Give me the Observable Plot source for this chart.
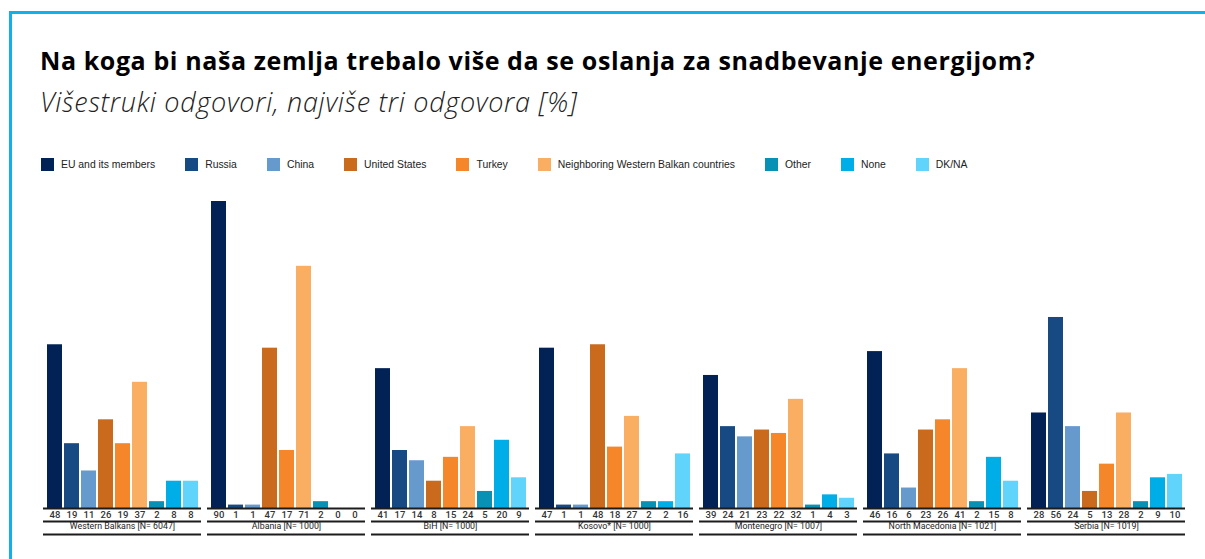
<!DOCTYPE html>
<html>
<head>
<meta charset="utf-8">
<script src="https://cdn.jsdelivr.net/npm/d3@7"></script>
<script src="https://cdn.jsdelivr.net/npm/@observablehq/plot@0.6"></script>
<style>
  html, body { margin: 0; padding: 0; background: #fff; width: 1205px; height: 559px; overflow: hidden; position: relative; }
  .frame { position: absolute; left: 9px; top: 11px; width: 1400px; height: 800px; border-top: 3px solid #0fb1e8; border-left: 3px solid #0fb1e8; }
  .title { position: absolute; left: 40px; top: 48px; font-family: "Open Sans", sans-serif; font-weight: 700; font-size: 25px; line-height: 25px; letter-spacing: 0.6px; color: #000; white-space: nowrap; }
  .subtitle { position: absolute; left: 40px; top: 88px; font-family: "Open Sans", sans-serif; font-weight: 300; font-style: italic; font-size: 27px; line-height: 27px; letter-spacing: 0.7px; color: #222; white-space: nowrap; }
  .legend { position: absolute; left: 41px; top: 158px; display: flex; align-items: center; font-family: "Liberation Sans", Arial, sans-serif; font-size: 10.4px; color: #222; white-space: nowrap; }
  .legend .item { display: flex; align-items: center; margin-right: 30px; }
  .legend .sw { width: 13px; height: 13px; margin-right: 7px; }
  #chart { position: absolute; left: 0; top: 185px; }
</style>
</head>
<body>
<div class="frame"></div>
<div class="title" id="title"></div>
<div class="subtitle" id="subtitle"></div>
<div class="legend" id="legend"></div>
<div id="chart"></div>
<script>
const titleText = "Na koga bi naša zemlja trebalo više da se oslanja za snadbevanje energijom?";
const subtitleText = "Višestruki odgovori, najviše tri odgovora [%]";

const categories = ["EU and its members", "Russia", "China", "United States", "Turkey", "Neighboring Western Balkan countries", "Other", "None", "DK/NA"];
const colors = ["#022256", "#174a82", "#6699cc", "#c96a1d", "#f5862a", "#f9ae62", "#0990b5", "#00aee7", "#60d4fa"];

const groups = ["Western Balkans [N= 6047]", "Albania [N= 1000]", "BiH [N= 1000]", "Kosovo* [N= 1000]", "Montenegro [N= 1007]", "North Macedonia [N= 1021]", "Serbia [N= 1019]"];

const westernBalkans = [48, 19, 11, 26, 19, 37, 2, 8, 8];
const albania        = [90, 1, 1, 47, 17, 71, 2, 0, 0];
const bih            = [41, 17, 14, 8, 15, 24, 5, 20, 9];
const kosovo         = [47, 1, 1, 48, 18, 27, 2, 2, 16];
const montenegro     = [39, 24, 21, 23, 22, 32, 1, 4, 3];
const northMacedonia = [46, 16, 6, 23, 26, 41, 2, 15, 8];
const serbia         = [28, 56, 24, 5, 13, 28, 2, 9, 10];
const groupValues = [westernBalkans, albania, bih, kosovo, montenegro, northMacedonia, serbia];

document.getElementById("title").textContent = titleText;
document.getElementById("subtitle").textContent = subtitleText;

const legend = document.getElementById("legend");
categories.forEach((c, i) => {
  const item = document.createElement("div");
  item.className = "item";
  const sw = document.createElement("div");
  sw.className = "sw";
  sw.style.background = colors[i];
  const lab = document.createElement("span");
  lab.textContent = c;
  item.appendChild(sw);
  item.appendChild(lab);
  legend.appendChild(item);
});

const data = groups.flatMap((g, i) => categories.map((c, j) => ({group: g, cat: c, value: groupValues[i][j]})));

const lineColor = "#1c1c1c";
const chart = Plot.plot({
  width: 1205,
  height: 374,
  marginLeft: 43,
  marginRight: 20,
  marginTop: 16,
  marginBottom: 51,
  style: {fontFamily: "Roboto, sans-serif", fontSize: "9.5px", background: "transparent"},
  facet: {data, x: "group"},
  fx: {domain: groups, paddingInner: 6 / 164, paddingOuter: 0, axis: null, label: null},
  x: {domain: categories, paddingInner: 0.14, paddingOuter: 0.07, axis: null, label: null},
  y: {domain: [0, 90], axis: null, label: null},
  color: {domain: categories, range: colors},
  marks: [
    Plot.barY(data, {x: "cat", y: "value", fill: "cat"}),
    Plot.ruleY([0], {stroke: lineColor, strokeWidth: 2}),
    Plot.ruleY([0], {stroke: lineColor, strokeWidth: 2, dy: 13}),
    Plot.ruleY([0], {stroke: lineColor, strokeWidth: 2, dy: 26}),
    Plot.text(data, {x: "cat", y: 0, text: d => String(d.value), dy: 6.5, fontSize: 9.5, fontWeight: 500, fill: "#333"}),
    Plot.text(data, {filter: d => d.cat === categories[0], text: "group", frameAnchor: "bottom", dy: 20, fontSize: 8.8, fill: "#222"})
  ]
});
document.getElementById("chart").appendChild(chart);
</script>
</body>
</html>
